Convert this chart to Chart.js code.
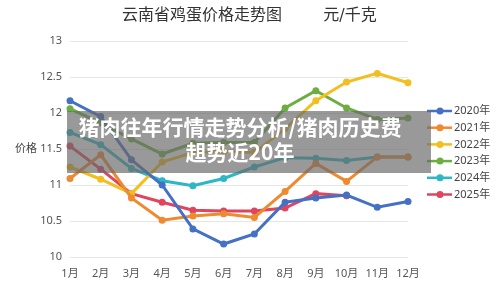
<!DOCTYPE html>
<html>
<head>
<meta charset="utf-8">
<script src="https://cdn.jsdelivr.net/npm/chart.js@4"></script>
<style>
  html, body { margin: 0; padding: 0; background: #fff; }
  #wrap { position: relative; width: 500px; height: 285px; }
  #banner {
    position: absolute; left: 67px; top: 111px; width: 364px; height: 62px;
    background: rgba(105, 105, 105, 0.68);
    color: #fff; font: bold 21px "Noto Sans CJK SC", "Noto Sans", sans-serif;
    text-align: center; line-height: 25px; padding-top: 3px; box-sizing: border-box;
    padding-right: 18px; white-space: nowrap;
  }
</style>
</head>
<body>
<div id="wrap">
  <canvas id="chart" width="500" height="285"></canvas>
  <div id="banner">猪肉往年行情走势分析/猪肉历史费<br>趄势近20年</div>
</div>
<script>
// ── Data ──────────────────────────────────────────────────────────────
const months = ['1月', '2月', '3月', '4月', '5月', '6月', '7月', '8月', '9月', '10月', '11月', '12月'];
const years  = ['2020年', '2021年', '2022年', '2023年', '2024年', '2025年'];

const price2020 = [12.17, 11.95, 11.35, 11.00, 10.39, 10.18, 10.32, 10.76, 10.82, 10.86, 10.69, 10.77];
const price2021 = [11.09, 11.42, 10.82, 10.51, 10.57, 10.60, 10.55, 10.91, 11.30, 11.05, 11.39, 11.39];
const price2022 = [11.25, 11.08, 10.88, 11.32, 11.45, 11.47, 11.45, 11.78, 12.17, 12.43, 12.55, 12.42];
const price2023 = [12.06, 11.86, 11.64, 11.43, 11.58, 11.59, 11.59, 12.07, 12.31, 12.07, 11.91, 11.93];
const price2024 = [11.73, 11.56, 11.23, 11.06, 10.99, 11.09, 11.25, 11.38, 11.37, 11.34, 11.39, 11.39];
const price2025 = [11.54, 11.22, 10.88, 10.76, 10.65, 10.64, 10.64, 10.68, 10.88, 10.85, null, null];

const yTicks = [10, 10.5, 11, 11.5, 12, 12.5, 13];

const seriesColors = ['#4470c6', '#ee8a2f', '#f3be1f', '#6cae3f', '#2db6c3', '#e0455d'];
const allSeries = [price2020, price2021, price2022, price2023, price2024, price2025];

// ── Plugin: title, y-axis label, legend ───────────────────────────────
const decorPlugin = {
  id: 'decor',
  afterDraw(chart) {
    const ctx = chart.ctx;
    ctx.save();

    // title
    ctx.fillStyle = '#333';
    ctx.font = '16px "DejaVu Serif", "Noto Sans CJK SC", serif';
    ctx.textAlign = 'center';
    ctx.textBaseline = 'middle';
    ctx.fillText('云南省鸡蛋价格走势图', 202, 16);
    ctx.fillText('元/千克', 350, 16);

    // y axis name
    ctx.font = '11px "Noto Sans CJK SC", sans-serif';
    ctx.fillStyle = '#444';
    ctx.textAlign = 'left';
    ctx.fillText('价格', 15, 148);

    // legend
    chart.data.datasets.forEach((ds, i) => {
      const y = 111 + i * 16.7;
      ctx.strokeStyle = ds.borderColor;
      ctx.lineWidth = 2.5;
      ctx.beginPath();
      ctx.moveTo(427, y);
      ctx.lineTo(452, y);
      ctx.stroke();
      ctx.fillStyle = ds.borderColor;
      ctx.beginPath();
      ctx.arc(440, y, 3.5, 0, Math.PI * 2);
      ctx.fill();
      ctx.fillStyle = '#444';
      ctx.font = '11px "Noto Sans", "Noto Sans CJK SC", sans-serif';
      ctx.textAlign = 'left';
      ctx.fillText(ds.label, 454, y);
    });

    ctx.restore();
  }
};

// ── Chart ─────────────────────────────────────────────────────────────
new Chart(document.getElementById('chart'), {
  type: 'line',
  data: {
    labels: months,
    datasets: years.map((name, i) => ({
      label: name,
      data: allSeries[i],
      borderColor: seriesColors[i],
      backgroundColor: seriesColors[i],
      borderWidth: 3,
      pointRadius: 3.5,
      pointBorderWidth: 0,
      tension: 0,
      spanGaps: false,
    })),
  },
  options: {
    responsive: false,
    animation: false,
    layout: { padding: { top: 41, right: 92, bottom: 0, left: 0 } },
    plugins: {
      legend: { display: false },
      title: { display: false },
      tooltip: { enabled: false },
    },
    scales: {
      x: {
        offset: false,
        grid: { display: false },
        border: { display: false },
        ticks: {
          color: '#555',
          font: { family: '"Noto Sans", "Noto Sans CJK SC", sans-serif', size: 11 },
          padding: 2,
          maxRotation: 0,
        },
        afterFit(scale) { scale.height = 28; },
      },
      y: {
        min: 10,
        max: 13,
        afterBuildTicks(scale) { scale.ticks = yTicks.map(v => ({ value: v })); },
        grid: { color: '#e6e6e6', lineWidth: 1, drawTicks: false },
        border: { display: false },
        ticks: {
          color: '#555',
          font: { family: '"Noto Sans", sans-serif', size: 11 },
          padding: 8,
          callback: (v) => String(v),
        },
        afterFit(scale) { scale.width = 70; },
      },
    },
  },
  plugins: [decorPlugin],
});
</script>
</body>
</html>
